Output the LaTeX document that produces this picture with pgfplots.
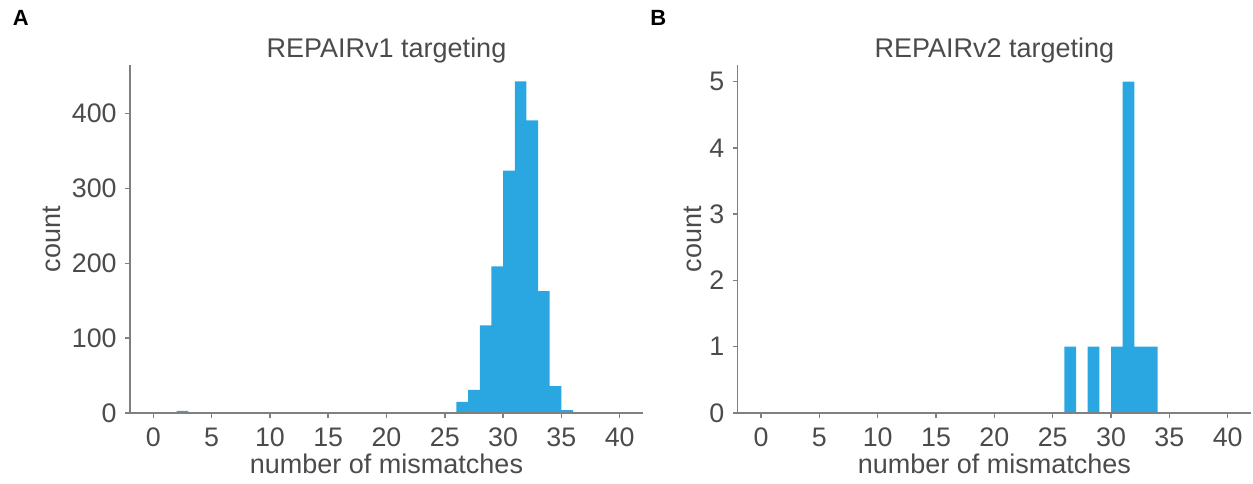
\documentclass[border=0pt]{standalone}
\usepackage{fontspec}
\setmainfont{Liberation Sans}
\usepackage{pgfplots}
\pgfplotsset{compat=1.18}
\definecolor{barblue}{RGB}{42,167,224}
\definecolor{txt}{RGB}{75,75,75}
\definecolor{spine}{RGB}{128,128,128}
\pgfplotsset{
  hist/.style={
    scale only axis, anchor=south west,
    height=174pt,
    xmin=-2, xmax=42, ymin=0,
    axis x line*=bottom, axis y line*=left,
    axis line style={-, spine, line width=0.75pt},
    every tick/.style={spine, line width=0.75pt},
    tick align=outside, major tick length=2.5pt,
    xtick={0,5,...,40},
    /pgf/number format/assume math mode=true,
    tick label style={font=\fontsize{13.4}{16}\selectfont, text=txt},
    xticklabel style={inner sep=0pt, anchor=north, yshift=-4.6pt},
    yticklabel style={inner sep=0pt, anchor=east, xshift=-4pt},
    axis on top,
    clip=false,
  }
}
\begin{document}
\begin{tikzpicture}
\path[use as bounding box] (0,0) rectangle (626.5pt,241.5pt);
\begin{axis}[hist, at={(65pt,35pt)}, width=256.5pt, ymax=465, ytick={0,100,200,300,400}]
\addplot[ybar interval, fill=barblue, draw=none] coordinates {
(0,0) (2,3) (3,0) (23,1) (24,1) (25,1) (26,15) (27,31) (28,117) (29,196)
(30,324) (31,443) (32,391) (33,163) (34,36) (35,4) (36,0)};
\end{axis}
\begin{axis}[hist, at={(368.85pt,35pt)}, width=256.65pt, ymax=5.25, ytick={0,1,2,3,4,5}]
\addplot[ybar interval, fill=barblue, draw=none] coordinates {
(0,0) (26,1) (27,0) (28,1) (29,0) (30,1) (31,5) (32,1) (33,1) (34,0)};
\end{axis}
\begin{scope}[every node/.style={text=txt, font=\fontsize{13.5}{16}\selectfont, inner sep=0pt}]
\node[anchor=base] at (193.25pt,212.75pt) {REPAIRv1 targeting};
\node[anchor=base] at (497.2pt,212.75pt) {REPAIRv2 targeting};
\node[anchor=base] at (193.25pt,5pt) {number of mismatches};
\node[anchor=base] at (497.2pt,5pt) {number of mismatches};
\node[anchor=base, rotate=90] at (30.35pt,122pt) {count};
\node[anchor=base, rotate=90] at (350.85pt,122pt) {count};
\end{scope}
\node[anchor=base west, inner sep=0pt, font=\fontsize{11}{13}\selectfont\bfseries] at (6.2pt,228.5pt) {A};
\node[anchor=base west, inner sep=0pt, font=\fontsize{11}{13}\selectfont\bfseries] at (325pt,228.5pt) {B};
\end{tikzpicture}
\end{document}
